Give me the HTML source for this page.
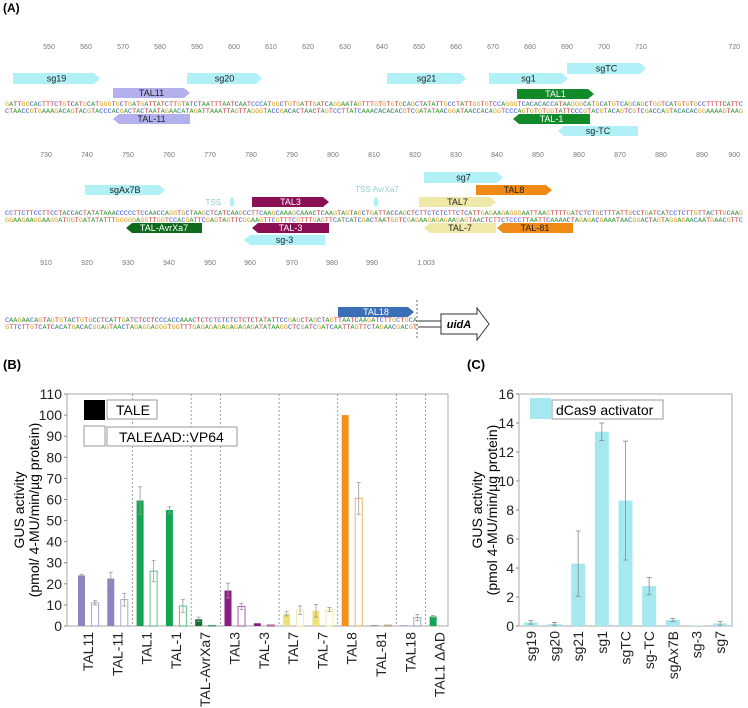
<!DOCTYPE html>
<html><head><meta charset="utf-8">
<style>
body{margin:0;background:#fff;}
svg{display:block;font-family:"Liberation Sans",sans-serif;}
.seq{font-family:"Liberation Mono",monospace;font-size:6px;}
.num{font-size:7px;fill:#777;}
.feat{font-size:9px;}
.tick{font-size:14px;fill:#222;}
</style></head>
<body>
<svg id="fig" width="748" height="708" viewBox="0 0 748 708">
<text x="3" y="12" font-size="12" font-weight="bold">(A)</text>
<text x="3" y="369" font-size="13" font-weight="bold">(B)</text>
<text x="467" y="369" font-size="13" font-weight="bold">(C)</text>

<g id="seqs">
<text class="seq" x="5" y="106" textLength="738" lengthAdjust="spacingAndGlyphs">GATTGGCACTTTCTGTCATGCATGGGTGCTGATGATTATCTTGTATCTAATTTAATCAATCCCATGGCTGTGATTGATCAGGAATAGTTTGTGTGTGCAGCTATATTGCCTATTGGTGTCCAGGGTCACACACCATAAGGGCATGCATGTCAGCAGCTGGTCATGTGTGCCTTTTCATTC</text>
<text class="seq" x="5" y="113" textLength="738" lengthAdjust="spacingAndGlyphs">CTAACCGTGAAAGACAGTACGTACCCACGACTACTAATAGAACATAGATTAAATTAGTTAGGGTACCGACACTAACTAGTCCTTATCAAACACACACGTCGATATAACGGATAACCACAGGTCCCAGTGTGTGGTATTCCCGTACGTACAGTCGTCGACCAGTACACACGGAAAAGTAAG</text>
<text class="seq" x="5" y="215" textLength="738" lengthAdjust="spacingAndGlyphs">CCTTCTTCCTTCCTACCACTATATAAACCCCCTCCAACCAGGTGCTAAGCTCATCAAGCCTTCAAGCAAAGCAAACTCAAGTAGTAGCTGATTACCAGCTCTTCTCTCTTCTCATTGAGAAGAGGGAATTAAGTTTTGATCTCTGCTTTATTGCCTGATCATCCTCTTGTTACTTGCAAG</text>
<text class="seq" x="5" y="222" textLength="738" lengthAdjust="spacingAndGlyphs">GGAAGAAGGAAGGATGGTGATATATTTGGGGGAGGTTGGTCCACGATTCGAGTAGTTCGGAAGTTCGTTTCGTTTGAGTTCATCATCGACTAATGGTCGAGAAGAGAGAAGAGTAACTCTTCTCCCTTAATTCAAAACTAGAGACGAAATAACGGACTAGTAGGAGAACAATGAACGTTC</text>
<text class="seq" x="5" y="322" textLength="412" lengthAdjust="spacingAndGlyphs">CAAGAACAGTAGTGTACTGTGCCTCATTGATCTCCTCCCACCAAACTCTCTCTCTCTCTCTATATTCCGAGCTAGCTAGTTAATCAAGATCTTGCTGCA</text>
<text class="seq" x="5" y="329" textLength="412" lengthAdjust="spacingAndGlyphs">GTTCTTGTCATCACATGACACGGAGTAACTAGAGGAGGGTGGTTTGAGAGAGAGAGAGAGATATAAGGCTCGATCGATCAATTAGTTCTAGAACGACGT</text>
</g>

<g>
<text class="num" x="49" y="49" text-anchor="middle">550</text><text class="num" x="86" y="49" text-anchor="middle">560</text><text class="num" x="123" y="49" text-anchor="middle">570</text><text class="num" x="160" y="49" text-anchor="middle">580</text><text class="num" x="197" y="49" text-anchor="middle">590</text><text class="num" x="234" y="49" text-anchor="middle">600</text><text class="num" x="271" y="49" text-anchor="middle">610</text><text class="num" x="308" y="49" text-anchor="middle">620</text><text class="num" x="345" y="49" text-anchor="middle">630</text><text class="num" x="382" y="49" text-anchor="middle">640</text><text class="num" x="419" y="49" text-anchor="middle">650</text><text class="num" x="456" y="49" text-anchor="middle">660</text><text class="num" x="493" y="49" text-anchor="middle">670</text><text class="num" x="530" y="49" text-anchor="middle">680</text><text class="num" x="567" y="49" text-anchor="middle">690</text><text class="num" x="604" y="49" text-anchor="middle">700</text><text class="num" x="641" y="49" text-anchor="middle">710</text><text class="num" x="740" y="49" text-anchor="end">720</text>
</g>
<g>
<text class="num" x="46" y="157" text-anchor="middle">730</text><text class="num" x="87" y="157" text-anchor="middle">740</text><text class="num" x="128" y="157" text-anchor="middle">750</text><text class="num" x="169" y="157" text-anchor="middle">760</text><text class="num" x="210" y="157" text-anchor="middle">770</text><text class="num" x="251" y="157" text-anchor="middle">780</text><text class="num" x="292" y="157" text-anchor="middle">790</text><text class="num" x="333" y="157" text-anchor="middle">800</text><text class="num" x="374" y="157" text-anchor="middle">810</text><text class="num" x="415" y="157" text-anchor="middle">820</text><text class="num" x="456" y="157" text-anchor="middle">830</text><text class="num" x="497" y="157" text-anchor="middle">840</text><text class="num" x="538" y="157" text-anchor="middle">850</text><text class="num" x="579" y="157" text-anchor="middle">860</text><text class="num" x="620" y="157" text-anchor="middle">870</text><text class="num" x="661" y="157" text-anchor="middle">880</text><text class="num" x="702" y="157" text-anchor="middle">890</text><text class="num" x="740" y="157" text-anchor="end">900</text>
</g>
<g>
<text class="num" x="46" y="265" text-anchor="middle">910</text><text class="num" x="87" y="265" text-anchor="middle">920</text><text class="num" x="128" y="265" text-anchor="middle">930</text><text class="num" x="169" y="265" text-anchor="middle">940</text><text class="num" x="210" y="265" text-anchor="middle">950</text><text class="num" x="250" y="265" text-anchor="middle">960</text><text class="num" x="292" y="265" text-anchor="middle">970</text><text class="num" x="332" y="265" text-anchor="middle">980</text><text class="num" x="372" y="265" text-anchor="middle">990</text><text class="num" x="426" y="265" text-anchor="middle">1,003</text>
</g>

<g id="features"></g>

<text x="226" y="205" font-size="8" fill="#9cc" text-anchor="end">TSS -</text>
<ellipse cx="232" cy="202" rx="2.5" ry="5" fill="#b0f0f6"/>
<text x="377" y="192" font-size="8" fill="#9cc" text-anchor="middle">TSS AvrXa7</text>
<ellipse cx="376" cy="202" rx="2.5" ry="5" fill="#b0f0f6"/>

<line x1="417" y1="300" x2="417" y2="338" stroke="#666" stroke-dasharray="2,2"/>
<g>
<line x1="418" y1="321" x2="441" y2="321" stroke="#333"/>
<line x1="418" y1="327" x2="441" y2="327" stroke="#333"/>
<path d="M441,314 L477,314 L477,308 L489,324 L477,340 L477,334 L441,334 Z" fill="#fff" stroke="#333"/>
<text x="459" y="328" font-size="11" font-weight="bold" font-style="italic" text-anchor="middle">uidA</text>
</g>

<g id="chartB"></g>
<g id="chartC"></g>
</svg>

<script>
const NS='http://www.w3.org/2000/svg';
function mk(tag,attrs,parent){const e=document.createElementNS(NS,tag);for(const k in attrs)e.setAttribute(k,attrs[k]);parent.appendChild(e);return e;}

const baseCol={A:'#3a9a3a',C:'#3050d0',G:'#d9a020',T:'#d03030'};
document.querySelectorAll('#seqs text').forEach(t=>{
  const s=t.textContent;t.textContent='';
  for(const ch of s){const ts=mk('tspan',{fill:baseCol[ch]||'#000'},t);ts.textContent=ch;}
});

const fg=document.getElementById('features');
function feat(name,label,x1,x2,y,h,dir,fill,tc){
  const g=mk('g',{},fg);
  
  
  const a=6;let d;
  if(dir>0)d=`M${x1},${y} L${x2-a},${y} L${x2},${y+h/2} L${x2-a},${y+h} L${x1},${y+h} Z`;
  else d=`M${x1+a},${y} L${x2},${y} L${x2},${y+h} L${x1+a},${y+h} L${x1},${y+h/2} Z`;
  mk('path',{d:d,fill:fill},g);
  const t=mk('text',{x:(x1+x2)/2,y:y+h/2+3.2,'text-anchor':'middle',class:'feat',fill:tc},g);
  t.textContent=label;
}
const cy='#b0f0f6';
feat('sg19-feature','sg19',13,100,73,11,1,cy,'#222');
feat('sg20-feature','sg20',187,262,73,11,1,cy,'#222');
feat('tal11-feature','TAL11',113,190,88,10,1,'#b4b0ee','#222');
feat('tal-11-feature','TAL-11',113,190,114,10,-1,'#b4b0ee','#222');
feat('sg21-feature','sg21',387,466,73,11,1,cy,'#222');
feat('sg1-feature','sg1',489,568,73,11,1,cy,'#222');
feat('sgtc-feature','sgTC',567,646,63,11,1,cy,'#222');
feat('tal1-feature','TAL1',517,594,89,10,1,'#138a2a','#fff');
feat('tal-1-feature','TAL-1',513,590,114,10,-1,'#138a2a','#fff');
feat('sg-tc-feature','sg-TC',558,638,126,10,-1,cy,'#222');
feat('sg7-feature','sg7',424,503,172,11,1,cy,'#222');
feat('sgax7b-feature','sgAx7B',85,165,185,10,1,cy,'#222');
feat('tal8-feature','TAL8',476,552,185,10,1,'#ef8a16','#222');
feat('tal3-feature','TAL3',252,329,197,10,1,'#8a0f55','#fff');
feat('tal7-feature','TAL7',419,496,197,10,1,'#f0e8a8','#222');
feat('tal-avrxa7-feature','TAL-AvrXa7',126,202,223,10,-1,'#0f6a1e','#fff');
feat('tal-3-feature','TAL-3',252,329,223,10,-1,'#8a0f55','#fff');
feat('tal-7-feature','TAL-7',424,496,223,10,-1,'#f0e8a8','#222');
feat('tal-81-feature','TAL-81',497,573,223,10,-1,'#ef8a16','#222');
feat('sg-3-feature','sg-3',244,325,235,10,-1,cy,'#222');
feat('tal18-feature','TAL18',338,414,307,10,1,'#3a6fb6','#fff');
</script>

<script>
const bCategories=['TAL11','TAL-11','TAL1','TAL-1','TAL-AvrXa7','TAL3','TAL-3','TAL7','TAL-7','TAL8','TAL-81','TAL18','TAL1 \u0394AD'];
const bTale=[24,22.5,59.5,55,3.2,16.8,1.3,5.8,7.2,100,0.4,0.3,4.5];
const bTaleErr=[0.5,3,6.5,1.5,1,3.5,0,1,3,0,0,0,0.5];
const bVp64=[11,12.5,26,9.5,0.3,9.3,0.5,7.5,7.8,60.5,0.4,4,null];
const bVp64Err=[1,3,5,3,0,1.5,0,2,1,7.5,0,1.5,0];
const bTicks=[0,10,20,30,40,50,60,70,80,90,100,110];
const bSeparators=[2,4,5,7,9,11,12];
const bColors=['#8f83c0','#8f83c0','#12a554','#12a554','#157034','#8b1c82','#8b1c82','#eee27c','#eee27c','#f3901f','#9a8060','#7084b8','#12a554'];

(function(){
  const g=document.getElementById('chartB');
  const X0=74,W=29.3,L=67,R=448,T=394,B=626,YMAX=110;
  const y=v=>B-(v/YMAX)*(B-T);
  const xc=i=>X0+i*W;
  const grid=mk('rect',{x:L,y:T,width:R-L,height:B-T,fill:'none',stroke:'#aaa','stroke-width':1},g);
  
  
  bSeparators.forEach(s=>{
    const l=mk('line',{x1:xc(s),y1:T,x2:xc(s),y2:B,stroke:'#888','stroke-dasharray':'2,2','stroke-width':0.8},g);
    
    
  });
  bTicks.forEach(t=>{
    const tx=mk('text',{x:L-5,y:y(t)+5,'text-anchor':'end',class:'tick'},g);
    
    
    tx.textContent=t;
    mk('line',{x1:L-3,y1:y(t),x2:L,y2:y(t),stroke:'#888'},g);
  });
  function err(cx,v,e){
    if(!e)return;
    mk('line',{x1:cx,y1:y(v-e),x2:cx,y2:y(v+e),stroke:'#999','stroke-width':0.8},g);
    mk('line',{x1:cx-2,y1:y(v+e),x2:cx+2,y2:y(v+e),stroke:'#999','stroke-width':0.8},g);
    mk('line',{x1:cx-2,y1:y(v-e),x2:cx+2,y2:y(v-e),stroke:'#999','stroke-width':0.8},g);
  }
  bCategories.forEach((c,i)=>{
    const fx=xc(i)+7.5,ox=xc(i)+21,bw=7;
    const r=mk('rect',{x:fx-bw/2,y:y(bTale[i]),width:bw,height:B-y(bTale[i]),fill:bColors[i]},g);
    
    
    err(fx,bTale[i],bTaleErr[i]);
    if(bVp64[i]!==null){
      const o=mk('rect',{x:ox-bw/2,y:y(bVp64[i]),width:bw,height:B-y(bVp64[i]),fill:'#fff',stroke:bColors[i],'stroke-width':1,'stroke-opacity':0.7},g);
      
      
      err(ox,bVp64[i],bVp64Err[i]);
    }
    const lx=xc(i)+14+5;
    const t=mk('text',{x:lx,y:632,transform:`rotate(-90 ${lx} 632)`,'text-anchor':'end',class:'tick'},g);
    
    
    t.textContent=c;
  });
  const yt=mk('text',{x:0,y:0,transform:'translate(24,510) rotate(-90)','text-anchor':'middle','font-size':'14'},g);
  
  
  yt.textContent='GUS activity';
  const yt2=mk('text',{x:0,y:0,transform:'translate(39,510) rotate(-90)','text-anchor':'middle','font-size':'14'},g);
  
  
  yt2.textContent='(pmol/ 4-MU/min/\u00b5g protein)';
  const lg=mk('g',{},g);
  
  
  mk('rect',{x:84,y:400,width:21,height:20,fill:'#000'},lg);
  mk('rect',{x:107,y:400,width:50,height:19,fill:'#fff',stroke:'#999'},lg);
  const l1=mk('text',{x:116,y:415,'font-size':'14'},lg);l1.textContent='TALE';
  mk('rect',{x:84,y:426,width:21,height:20,fill:'#fff',stroke:'#999'},lg);
  mk('rect',{x:107,y:427,width:130,height:19,fill:'#fff',stroke:'#999'},lg);
  const l2=mk('text',{x:119,y:442,'font-size':'14'},lg);l2.textContent='TALE\u0394AD::VP64';
})();
</script>

<script>
const cCategories=['sg19','sg20','sg21','sg1','sgTC','sg-TC','sgAx7B','sg-3','sg7'];
const cValues=[0.25,0.15,4.3,13.4,8.65,2.75,0.42,0.03,0.18];
const cErrors=[0.12,0.1,2.25,0.6,4.1,0.6,0.1,0,0.12];
const cTicks=[0,2,4,6,8,10,12,14,16];

(function(){
  const g=document.getElementById('chartC');
  const L=519,R=732,T=394,B=626,YMAX=16,W=(R-L)/cCategories.length;
  const y=v=>B-(v/YMAX)*(B-T);
  const fr=mk('rect',{x:L,y:T,width:R-L,height:B-T,fill:'none',stroke:'#aaa'},g);
  
  
  cTicks.forEach(t=>{
    const tx=mk('text',{x:L-5,y:y(t)+5,'text-anchor':'end',class:'tick'},g);
    
    
    tx.textContent=t;
    mk('line',{x1:L-3,y1:y(t),x2:L,y2:y(t),stroke:'#888'},g);
  });
  cCategories.forEach((c,i)=>{
    const cx=L+(i+0.5)*W,bw=14;
    const r=mk('rect',{x:cx-bw/2,y:y(cValues[i]),width:bw,height:B-y(cValues[i]),fill:'#a6e8f0'},g);
    
    
    const e=cErrors[i];
    if(e){
      mk('line',{x1:cx,y1:y(cValues[i]-e),x2:cx,y2:y(cValues[i]+e),stroke:'#888','stroke-width':0.8},g);
      mk('line',{x1:cx-2.5,y1:y(cValues[i]+e),x2:cx+2.5,y2:y(cValues[i]+e),stroke:'#888','stroke-width':0.8},g);
      mk('line',{x1:cx-2.5,y1:y(cValues[i]-e),x2:cx+2.5,y2:y(cValues[i]-e),stroke:'#888','stroke-width':0.8},g);
    }
    const lx=cx+5;
    const t=mk('text',{x:lx,y:631,transform:`rotate(-90 ${lx} 631)`,'text-anchor':'end',class:'tick'},g);
    
    
    t.textContent=c;
  });
  const yt=mk('text',{x:0,y:0,transform:'translate(482,510) rotate(-90)','text-anchor':'middle','font-size':'14'},g);
  
  
  yt.textContent='GUS activity';
  const yt2=mk('text',{x:0,y:0,transform:'translate(497,510) rotate(-90)','text-anchor':'middle','font-size':'14'},g);
  
  
  yt2.textContent='(pmol 4-MU/min/\u00b5g protein)';
  const lg=mk('g',{},g);
  
  
  mk('rect',{x:530,y:398,width:21,height:21,fill:'#a6e8f0'},lg);
  mk('rect',{x:552,y:400,width:111,height:19,fill:'#fff',stroke:'#999'},lg);
  const l=mk('text',{x:556,y:415,'font-size':'14'},lg);l.textContent='dCas9 activator';
})();
</script>
</body></html>
